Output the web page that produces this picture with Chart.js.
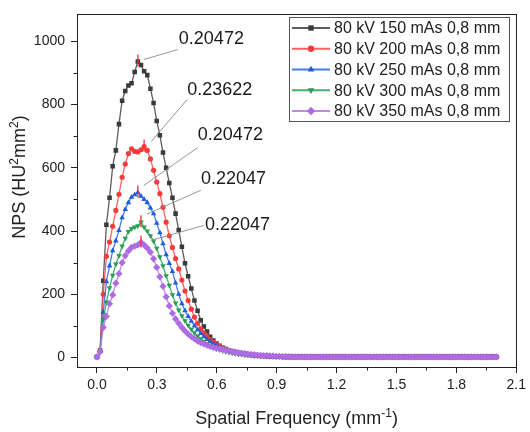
<!DOCTYPE html>
<html>
<head>
<meta charset="utf-8">
<script src="https://cdn.jsdelivr.net/npm/chart.js@4.4.0/dist/chart.umd.min.js"></script>
<style>
  html, body { margin: 0; padding: 0; background: #fff; }
  #wrap { width: 530px; height: 432px; }
</style>
</head>
<body>
<div id="wrap"><canvas id="nps-chart" width="530" height="432"></canvas></div>
<script>
'use strict';

// Spatial frequency samples (mm^-1)
const frequencies = [
    0, 0.0157, 0.0315, 0.0472, 0.0630, 0.0787, 0.0945, 0.1102, 0.1260, 0.1417, 0.1575, 0.1732, 0.1890, 0.2047, 0.2205, 0.2362,
    0.2520, 0.2677, 0.2835, 0.2992, 0.3150, 0.3307, 0.3465, 0.3622, 0.3780, 0.3937, 0.4094, 0.4252, 0.4409, 0.4567, 0.4724, 0.4882,
    0.5039, 0.5197, 0.5354, 0.5512, 0.5669, 0.5827, 0.5984, 0.6142, 0.6299, 0.6457, 0.6614, 0.6772, 0.6929, 0.7087, 0.7244, 0.7402,
    0.7559, 0.7717, 0.7874, 0.8031, 0.8189, 0.8346, 0.8504, 0.8661, 0.8819, 0.8976, 0.9134, 0.9291, 0.9449, 0.9606, 0.9764, 0.9921,
    1.0079, 1.0236, 1.0394, 1.0551, 1.0709, 1.0866, 1.1024, 1.1181, 1.1339, 1.1496, 1.1654, 1.1811, 1.1969, 1.2126, 1.2283, 1.2441,
    1.2598, 1.2756, 1.2913, 1.3071, 1.3228, 1.3386, 1.3543, 1.3701, 1.3858, 1.4016, 1.4173, 1.4331, 1.4488, 1.4646, 1.4803, 1.4961,
    1.5118, 1.5276, 1.5433, 1.5591, 1.5748, 1.5906, 1.6063, 1.6220, 1.6378, 1.6535, 1.6693, 1.6850, 1.7008, 1.7165, 1.7323, 1.7480,
    1.7638, 1.7795, 1.7953, 1.8110, 1.8268, 1.8425, 1.8583, 1.8740, 1.8898, 1.9055, 1.9213, 1.9370, 1.9528, 1.9685, 1.9843, 2.0000
];

// NPS values (HU^2 mm^2)
const nps150 = [
    2, 22, 243, 420, 505, 605, 655, 738, 812, 843, 860, 867, 903, 936, 925, 905,
    893, 850, 805, 748, 703, 648, 600, 552, 505, 455, 403, 350, 298, 257, 218, 180,
    148, 118, 98, 82, 66, 54, 44, 37, 31, 27, 23, 20, 17, 15, 13, 12,
    10, 9, 8, 7, 6, 5, 5, 4, 4, 3, 3, 3, 2, 2, 2, 2,
    2, 2, 2, 2, 2, 2, 2, 2, 2, 2, 2, 2, 2, 2, 2, 2,
    2, 2, 2, 2, 2, 2, 2, 2, 2, 2, 2, 2, 2, 2, 2, 2,
    2, 2, 2, 2, 2, 2, 2, 2, 2, 2, 2, 2, 2, 2, 2, 2,
    2, 2, 2, 2, 2, 2, 2, 2, 2, 2, 2, 2, 2, 2, 2, 2
];
const nps200 = [
    2, 20, 200, 320, 365, 415, 465, 516, 570, 612, 645, 660, 652, 650, 657, 667,
    655, 628, 592, 555, 518, 475, 428, 385, 348, 313, 280, 245, 210, 180, 153, 128,
    108, 91, 78, 66, 56, 48, 41, 35, 30, 26, 22, 19, 16, 14, 12, 11,
    9, 8, 7, 6, 5, 5, 4, 4, 3, 3, 3, 2, 2, 2, 2, 2,
    2, 2, 2, 2, 2, 2, 2, 2, 2, 2, 2, 2, 2, 2, 2, 2,
    2, 2, 2, 2, 2, 2, 2, 2, 2, 2, 2, 2, 2, 2, 2, 2,
    2, 2, 2, 2, 2, 2, 2, 2, 2, 2, 2, 2, 2, 2, 2, 2,
    2, 2, 2, 2, 2, 2, 2, 2, 2, 2, 2, 2, 2, 2, 2, 2
];
const nps250 = [
    2, 20, 143, 240, 290, 338, 369, 402, 442, 468, 490, 507, 515, 522, 510, 500,
    490, 473, 455, 425, 395, 360, 325, 298, 272, 236, 200, 170, 148, 130, 115, 100,
    88, 76, 66, 57, 50, 43, 37, 32, 27, 23, 20, 17, 15, 13, 11, 10,
    9, 8, 7, 6, 5, 4, 4, 3, 3, 3, 2, 2, 2, 2, 2, 2,
    2, 2, 2, 2, 2, 2, 2, 2, 2, 2, 2, 2, 2, 2, 2, 2,
    2, 2, 2, 2, 2, 2, 2, 2, 2, 2, 2, 2, 2, 2, 2, 2,
    2, 2, 2, 2, 2, 2, 2, 2, 2, 2, 2, 2, 2, 2, 2, 2,
    2, 2, 2, 2, 2, 2, 2, 2, 2, 2, 2, 2, 2, 2, 2, 2
];
const nps300 = [
    2, 18, 120, 175, 220, 260, 295, 322, 352, 377, 398, 408, 412, 416, 428, 412,
    400, 385, 368, 345, 318, 290, 258, 228, 198, 172, 150, 132, 116, 102, 89, 78,
    68, 59, 51, 44, 38, 33, 28, 24, 21, 18, 16, 14, 12, 10, 9, 8,
    7, 6, 5, 5, 4, 4, 3, 3, 3, 2, 2, 2, 2, 2, 2, 2,
    2, 2, 2, 2, 2, 2, 2, 2, 2, 2, 2, 2, 2, 2, 2, 2,
    2, 2, 2, 2, 2, 2, 2, 2, 2, 2, 2, 2, 2, 2, 2, 2,
    2, 2, 2, 2, 2, 2, 2, 2, 2, 2, 2, 2, 2, 2, 2, 2,
    2, 2, 2, 2, 2, 2, 2, 2, 2, 2, 2, 2, 2, 2, 2, 2
];
const nps350 = [
    2, 18, 95, 130, 170, 198, 235, 265, 300, 322, 337, 348, 352, 356, 364, 356,
    346, 333, 312, 285, 255, 225, 192, 163, 140, 122, 108, 95, 84, 74, 66, 59,
    52, 47, 43, 39, 35, 32, 29, 27, 25, 23, 21, 19, 17, 15, 14, 13,
    11, 10, 9, 8, 7, 6, 6, 5, 5, 4, 4, 3, 3, 3, 2, 2,
    2, 2, 2, 2, 2, 2, 2, 2, 2, 2, 2, 2, 2, 2, 2, 2,
    2, 2, 2, 2, 2, 2, 2, 2, 2, 2, 2, 2, 2, 2, 2, 2,
    2, 2, 2, 2, 2, 2, 2, 2, 2, 2, 2, 2, 2, 2, 2, 2,
    2, 2, 2, 2, 2, 2, 2, 2, 2, 2, 2, 2, 2, 2, 2, 2
];

const seriesValues = [nps150, nps200, nps250, nps300, nps350];
const seriesLabels = [
    '80 kV 150 mAs 0,8 mm',
    '80 kV 200 mAs 0,8 mm',
    '80 kV 250 mAs 0,8 mm',
    '80 kV 300 mAs 0,8 mm',
    '80 kV 350 mAs 0,8 mm'
];

// Peak of each curve and its frequency label
const peakIndex = [13, 15, 13, 14, 14];
const peakLabels = ['0.20472', '0.23622', '0.20472', '0.22047', '0.22047'];

// Axis ticks
const xTicks = [0, 0.3, 0.6, 0.9, 1.2, 1.5, 1.8, 2.1];
const xMinorTicks = [0.15, 0.45, 0.75, 1.05, 1.35, 1.65, 1.95];
const yTicks = [0, 200, 400, 600, 800, 1000];
const yMinorTicks = [100, 300, 500, 700, 900];

// Axis titles: [text, superscript, text, ...]
const xTitleParts = ['Spatial Frequency (mm', '-1', ')'];
const yTitleParts = ['NPS (HU', '2', 'mm', '2', ')'];

// ---- styles ----
const FONT = "'Liberation Sans', Arial, Helvetica, sans-serif";
const INK = '#222';

const seriesStyle = [
    { line: 'rgba(75,75,75,0.9)',    point: '#3a3a3a', shape: 'rect',     radius: 3.2, rotation: 0 },
    { line: 'rgba(255,80,80,0.9)',   point: '#f43c3c', shape: 'circle',   radius: 2.6, rotation: 0 },
    { line: 'rgba(50,110,230,0.9)',  point: '#1f5cdc', shape: 'triangle', radius: 3.2, rotation: 0 },
    { line: 'rgba(50,165,95,0.9)',   point: '#2a9c55', shape: 'triangle', radius: 3.2, rotation: 180 },
    { line: 'rgba(180,125,232,0.9)', point: '#ad6be4', shape: 'rectRot',  radius: 3.6, rotation: 0 }
];

// callout placement relative to the peak point (px)
const calloutStyle = [
    { dx: 41, dy: -22, sx: 6,  sy: -2,  ex: 40, ey: -12 },
    { dx: 43, dy: -57, sx: 7,  sy: -5,  ex: 43, ey: -47 },
    { dx: 60, dy: -57, sx: 6,  sy: -7,  ex: 60, ey: -45 },
    { dx: 60, dy: -43, sx: 6,  sy: -8,  ex: 60, ey: -32 },
    { dx: 64, dy: -17, sx: 10, sy: -2,  ex: 63, ey: -17 }
];

const legendBox = { x: 289.5, y: 17.5, w: 220, h: 104, row0: 28, rowGap: 20.75, line0: 292, line1: 330, textX: 334 };

function drawMarker(ctx, style, x, y) {
    const opts = { pointStyle: style.shape, rotation: style.rotation, radius: style.radius, borderWidth: 0 };
    ctx.fillStyle = style.point;
    if (Chart.helpers && Chart.helpers.drawPoint) {
        Chart.helpers.drawPoint(ctx, opts, x, y);
    } else {
        ctx.beginPath();
        ctx.arc(x, y, style.radius, 0, Math.PI * 2);
        ctx.fill();
    }
}

// text with superscripts, centered on (0,0) along the baseline
function drawRichText(ctx, parts, size, supSize, supRise) {
    const widths = parts.map(function(t, i) {
        ctx.font = (i % 2 ? supSize : size) + 'px ' + FONT;
        return ctx.measureText(t).width;
    });
    const total = widths.reduce(function(a, b) { return a + b; }, 0);
    let x = -total / 2;
    ctx.textAlign = 'left';
    ctx.textBaseline = 'alphabetic';
    parts.forEach(function(t, i) {
        ctx.font = (i % 2 ? supSize : size) + 'px ' + FONT;
        ctx.fillText(t, x, i % 2 ? -supRise : 0);
        x += widths[i];
    });
}

const decorPlugin = {
    id: 'npsDecor',
    afterDatasetsDraw: function(chart) {
        const ctx = chart.ctx;
        ctx.save();
        seriesValues.forEach(function(vals, i) {
            const pt = chart.getDatasetMeta(i).data[peakIndex[i]];
            const c = calloutStyle[i];
            // red peak marker
            ctx.strokeStyle = 'rgba(250,45,45,0.85)';
            ctx.lineWidth = 1.5;
            ctx.beginPath();
            ctx.moveTo(pt.x, pt.y - 7);
            ctx.lineTo(pt.x, pt.y + 5);
            ctx.stroke();
            // leader line
            ctx.strokeStyle = '#8a8a8a';
            ctx.lineWidth = 0.9;
            ctx.beginPath();
            ctx.moveTo(pt.x + c.sx, pt.y + c.sy);
            ctx.lineTo(pt.x + c.ex, pt.y + c.ey);
            ctx.stroke();
            // label
            ctx.fillStyle = '#1a1a1a';
            ctx.font = '18px ' + FONT;
            ctx.textAlign = 'left';
            ctx.textBaseline = 'middle';
            ctx.fillText(peakLabels[i], pt.x + c.dx, pt.y + c.dy);
        });
        ctx.restore();
    },
    afterDraw: function(chart) {
        const ctx = chart.ctx;
        const a = chart.chartArea;
        const xs = chart.scales.x;
        const ys = chart.scales.y;
        ctx.save();

        // frame
        ctx.strokeStyle = INK;
        ctx.lineWidth = 1;
        ctx.strokeRect(Math.round(a.left) + 0.5, Math.round(a.top) + 0.5,
            Math.round(a.right - a.left), Math.round(a.bottom - a.top));

        // minor ticks
        ctx.beginPath();
        xMinorTicks.forEach(function(v) {
            const x = Math.round(xs.getPixelForValue(v)) + 0.5;
            ctx.moveTo(x, a.bottom);
            ctx.lineTo(x, a.bottom + 3.5);
        });
        yMinorTicks.forEach(function(v) {
            const y = Math.round(ys.getPixelForValue(v)) + 0.5;
            ctx.moveTo(a.left, y);
            ctx.lineTo(a.left - 3.5, y);
        });
        ctx.stroke();

        // legend
        const lb = legendBox;
        ctx.strokeStyle = '#555';
        ctx.strokeRect(lb.x, lb.y, lb.w, lb.h);
        seriesLabels.forEach(function(label, i) {
            const y = lb.row0 + i * lb.rowGap;
            const st = seriesStyle[i];
            ctx.strokeStyle = st.line;
            ctx.lineWidth = 1.8;
            ctx.beginPath();
            ctx.moveTo(lb.line0, y);
            ctx.lineTo(lb.line1, y);
            ctx.stroke();
            drawMarker(ctx, Object.assign({}, st, { radius: st.radius + 0.6 }), (lb.line0 + lb.line1) / 2, y);
            ctx.fillStyle = INK;
            ctx.font = '16px ' + FONT;
            ctx.textAlign = 'left';
            ctx.textBaseline = 'middle';
            ctx.fillText(label, lb.textX, y + 1);
        });

        // axis titles
        ctx.fillStyle = INK;
        ctx.save();
        ctx.translate((a.left + a.right) / 2, 424);
        drawRichText(ctx, xTitleParts, 18, 12, 7);
        ctx.restore();

        ctx.save();
        ctx.translate(25, 177);
        ctx.rotate(-Math.PI / 2);
        drawRichText(ctx, yTitleParts, 18, 12, 7);
        ctx.restore();

        ctx.restore();
    }
};

const datasets = seriesValues.map(function(vals, i) {
    const st = seriesStyle[i];
    return {
        label: seriesLabels[i],
        data: vals.map(function(v, k) { return { x: frequencies[k], y: v }; }),
        borderColor: st.line,
        backgroundColor: st.point,
        borderWidth: 1.3,
        pointStyle: st.shape,
        pointRotation: st.rotation,
        pointRadius: st.radius,
        pointBackgroundColor: st.point,
        pointBorderColor: st.point,
        pointBorderWidth: 0,
        tension: 0,
        order: seriesValues.length - i
    };
});

new Chart(document.getElementById('nps-chart'), {
    type: 'line',
    data: { datasets: datasets },
    plugins: [decorPlugin],
    options: {
        responsive: false,
        animation: false,
        devicePixelRatio: 1,
        layout: { padding: { left: 0, top: 12, right: 10, bottom: 0 } },
        plugins: {
            legend: { display: false },
            title: { display: false },
            tooltip: { enabled: false }
        },
        scales: {
            x: {
                type: 'linear',
                min: -0.1,
                max: 2.1,
                afterBuildTicks: function(scale) {
                    scale.ticks = xTicks.map(function(v) { return { value: v }; });
                },
                afterFit: function(scale) { scale.height = 65; },
                border: { display: false },
                grid: { display: true, drawOnChartArea: false, drawTicks: true, tickLength: 6, tickColor: INK, lineWidth: 1 },
                ticks: {
                    color: INK,
                    padding: 4,
                    maxRotation: 0,
                    autoSkip: false,
                    font: { family: FONT, size: 14 },
                    callback: function(value) { return Number(value).toFixed(1); }
                }
            },
            y: {
                type: 'linear',
                min: -30,
                max: 1085,
                afterBuildTicks: function(scale) {
                    scale.ticks = yTicks.map(function(v) { return { value: v }; });
                },
                afterFit: function(scale) { scale.width = 77; },
                border: { display: false },
                grid: { display: true, drawOnChartArea: false, drawTicks: true, tickLength: 6, tickColor: INK, lineWidth: 1 },
                ticks: {
                    color: INK,
                    padding: 6,
                    autoSkip: false,
                    font: { family: FONT, size: 14 },
                    callback: function(value) { return String(value); }
                }
            }
        }
    }
});
</script>
</body>
</html>
